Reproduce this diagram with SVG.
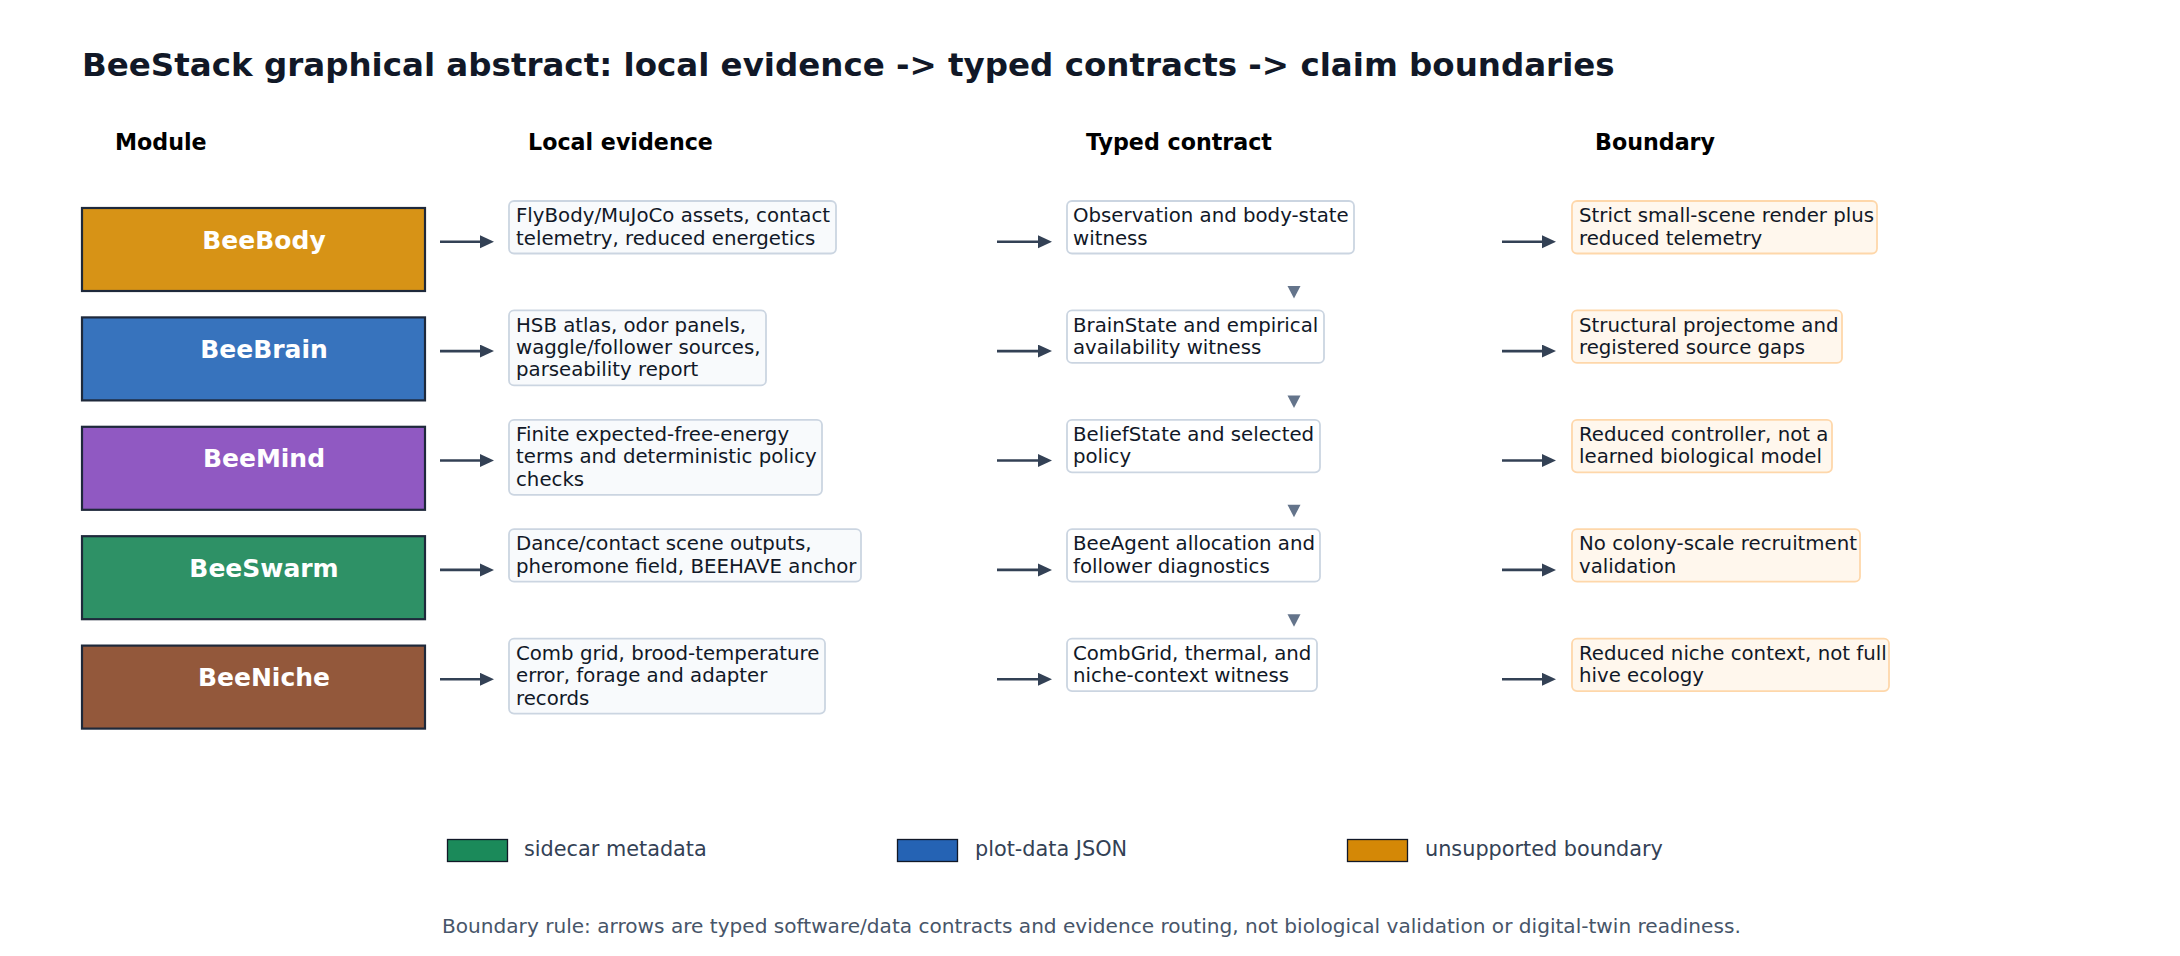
<svg xmlns="http://www.w3.org/2000/svg" width="2180" height="956" viewBox="0 0 2180 956">
<defs>
<marker id="ah" markerUnits="userSpaceOnUse" markerWidth="16" markerHeight="14" refX="2" refY="6.5" orient="auto">
<path d="M0,0 L14,6.5 L0,13 z" fill="#334155"/>
</marker>
<style>
text{font-family:"DejaVu Sans","Liberation Sans",sans-serif}
.title{font-size:32.5px;font-weight:bold;fill:#111827}
.hdr{font-size:22.2px;font-weight:bold;fill:#000}
.mod rect{stroke:#1e293b;stroke-width:2.2}
.mod text{font-size:25px;font-weight:bold;fill:#fff;text-anchor:middle}
.ev rect{fill:#f8fafc;stroke:#cbd5e1;stroke-width:1.8}
.ct rect{fill:#fff;stroke:#cbd5e1;stroke-width:1.8}
.bd rect{fill:#fff7ed;stroke:#fed7aa;stroke-width:1.8}
.box text{font-size:19.75px;fill:#111827}
.arr{stroke:#334155;stroke-width:2.6;fill:none;marker-end:url(#ah)}
.tri{fill:#64748b}
.leg rect{stroke:#111827;stroke-width:1.3}
.leg text{font-size:20.8px;fill:#334155}
.foot{font-size:20.1px;fill:#475569}
</style>
</defs>
<rect width="2180" height="956" fill="#fff"/>
<text class="title" x="82" y="76">BeeStack graphical abstract: local evidence -&gt; typed contracts -&gt; claim boundaries</text>
<g id="headers">
<text class="hdr" x="115" y="150">Module</text>
<text class="hdr" x="528" y="150">Local evidence</text>
<text class="hdr" x="1086" y="150">Typed contract</text>
<text class="hdr" x="1595" y="150">Boundary</text>
</g>
<g id="module-beebody" class="mod"><rect x="82" y="208" width="343" height="83" fill="#d79316"/><text x="264" y="248.5">BeeBody</text></g>
<g id="module-beebrain" class="mod" transform="translate(0,109.4)"><rect x="82" y="208" width="343" height="83" fill="#3773bd"/><text x="264" y="248.5">BeeBrain</text></g>
<g id="module-beemind" class="mod" transform="translate(0,218.8)"><rect x="82" y="208" width="343" height="83" fill="#9059c2"/><text x="264" y="248.5">BeeMind</text></g>
<g id="module-beeswarm" class="mod" transform="translate(0,328.2)"><rect x="82" y="208" width="343" height="83" fill="#2e9166"/><text x="264" y="248.5">BeeSwarm</text></g>
<g id="module-beeniche" class="mod" transform="translate(0,437.6)"><rect x="82" y="208" width="343" height="83" fill="#93583b"/><text x="264" y="248.5">BeeNiche</text></g>

<g id="evidence-beebody" class="box ev"><rect x="509" y="201" width="327" height="52.5" rx="5"/><text x="516" y="222.3">FlyBody/MuJoCo assets, contact</text><text x="516" y="244.7">telemetry, reduced energetics</text></g>
<g id="evidence-beebrain" class="box ev" transform="translate(0,109.4)"><rect x="509" y="201" width="257" height="75" rx="5"/><text x="516" y="222.3">HSB atlas, odor panels,</text><text x="516" y="244.7">waggle/follower sources,</text><text x="516" y="267.1">parseability report</text></g>
<g id="evidence-beemind" class="box ev" transform="translate(0,218.8)"><rect x="509" y="201" width="313" height="75" rx="5"/><text x="516" y="222.3">Finite expected-free-energy</text><text x="516" y="244.7">terms and deterministic policy</text><text x="516" y="267.1">checks</text></g>
<g id="evidence-beeswarm" class="box ev" transform="translate(0,328.2)"><rect x="509" y="201" width="352" height="52.5" rx="5"/><text x="516" y="222.3">Dance/contact scene outputs,</text><text x="516" y="244.7">pheromone field, BEEHAVE anchor</text></g>
<g id="evidence-beeniche" class="box ev" transform="translate(0,437.6)"><rect x="509" y="201" width="316" height="75" rx="5"/><text x="516" y="222.3">Comb grid, brood-temperature</text><text x="516" y="244.7">error, forage and adapter</text><text x="516" y="267.1">records</text></g>

<g id="contract-beebody" class="box ct"><rect x="1067" y="201" width="287" height="52.5" rx="5"/><text x="1073" y="222.3">Observation and body-state</text><text x="1073" y="244.7">witness</text></g>
<g id="contract-beebrain" class="box ct" transform="translate(0,109.4)"><rect x="1067" y="201" width="257" height="52.5" rx="5"/><text x="1073" y="222.3">BrainState and empirical</text><text x="1073" y="244.7">availability witness</text></g>
<g id="contract-beemind" class="box ct" transform="translate(0,218.8)"><rect x="1067" y="201" width="253" height="52.5" rx="5"/><text x="1073" y="222.3">BeliefState and selected</text><text x="1073" y="244.7">policy</text></g>
<g id="contract-beeswarm" class="box ct" transform="translate(0,328.2)"><rect x="1067" y="201" width="253" height="52.5" rx="5"/><text x="1073" y="222.3">BeeAgent allocation and</text><text x="1073" y="244.7">follower diagnostics</text></g>
<g id="contract-beeniche" class="box ct" transform="translate(0,437.6)"><rect x="1067" y="201" width="250" height="52.5" rx="5"/><text x="1073" y="222.3">CombGrid, thermal, and</text><text x="1073" y="244.7">niche-context witness</text></g>

<g id="boundary-beebody" class="box bd"><rect x="1572" y="201" width="305" height="52.5" rx="5"/><text x="1579" y="222.3">Strict small-scene render plus</text><text x="1579" y="244.7">reduced telemetry</text></g>
<g id="boundary-beebrain" class="box bd" transform="translate(0,109.4)"><rect x="1572" y="201" width="270" height="52.5" rx="5"/><text x="1579" y="222.3">Structural projectome and</text><text x="1579" y="244.7">registered source gaps</text></g>
<g id="boundary-beemind" class="box bd" transform="translate(0,218.8)"><rect x="1572" y="201" width="260" height="52.5" rx="5"/><text x="1579" y="222.3">Reduced controller, not a</text><text x="1579" y="244.7">learned biological model</text></g>
<g id="boundary-beeswarm" class="box bd" transform="translate(0,328.2)"><rect x="1572" y="201" width="288" height="52.5" rx="5"/><text x="1579" y="222.3">No colony-scale recruitment</text><text x="1579" y="244.7">validation</text></g>
<g id="boundary-beeniche" class="box bd" transform="translate(0,437.6)"><rect x="1572" y="201" width="317" height="52.5" rx="5"/><text x="1579" y="222.3">Reduced niche context, not full</text><text x="1579" y="244.7">hive ecology</text></g>

<g id="connectors">
<path class="arr" d="M440,241.7 H482"/><path class="arr" d="M997,241.7 H1040"/><path class="arr" d="M1502,241.7 H1544"/>
<path class="arr" d="M440,351.1 H482"/><path class="arr" d="M997,351.1 H1040"/><path class="arr" d="M1502,351.1 H1544"/>
<path class="arr" d="M440,460.5 H482"/><path class="arr" d="M997,460.5 H1040"/><path class="arr" d="M1502,460.5 H1544"/>
<path class="arr" d="M440,569.9 H482"/><path class="arr" d="M997,569.9 H1040"/><path class="arr" d="M1502,569.9 H1544"/>
<path class="arr" d="M440,679.3 H482"/><path class="arr" d="M997,679.3 H1040"/><path class="arr" d="M1502,679.3 H1544"/>
<polygon class="tri" points="1287.5,286 1300.5,286 1294,298.5"/>
<polygon class="tri" points="1287.5,395.4 1300.5,395.4 1294,407.9"/>
<polygon class="tri" points="1287.5,504.8 1300.5,504.8 1294,517.3"/>
<polygon class="tri" points="1287.5,614.2 1300.5,614.2 1294,626.7"/>
</g>

<g id="legend" class="leg">
<rect x="447.5" y="839.5" width="60" height="22" fill="#1b8a5a"/><text x="524" y="856">sidecar metadata</text>
<rect x="897.5" y="839.5" width="60" height="22" fill="#2563b4"/><text x="975" y="856">plot-data JSON</text>
<rect x="1347.5" y="839.5" width="60" height="22" fill="#d48806"/><text x="1425" y="856">unsupported boundary</text>
</g>
<text class="foot" x="442" y="933">Boundary rule: arrows are typed software/data contracts and evidence routing, not biological validation or digital-twin readiness.</text>
</svg>
